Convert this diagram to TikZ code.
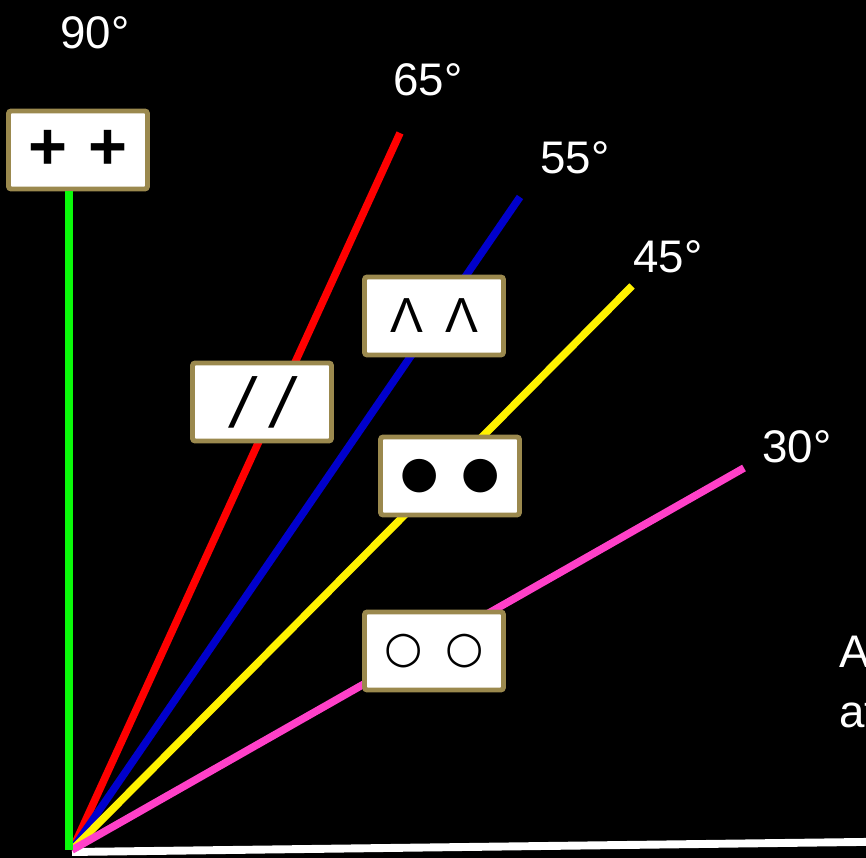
\documentclass[tikz,border=0pt]{standalone}
\usepackage{fontspec}
\setmainfont{Liberation Sans}
\newfontfamily\symfont{DejaVu Sans}
\definecolor{boxrim}{RGB}{155,137,78}
\definecolor{raygreen}{RGB}{10,250,10}
\definecolor{rayblue}{RGB}{0,0,204}
\definecolor{raypink}{RGB}{255,64,200}

\begin{document}
\begin{tikzpicture}[x=0.02cm, y=0.02cm,
	every node/.style={text=white, font=\fontsize{26}{34}\selectfont},
	markbox/.style={shape=rectangle, rounded corners=1.5pt, draw=boxrim,
		line width=2.8pt, fill=white, text=black, inner sep=0pt,
		minimum width=2.78cm, minimum height=1.56cm},
	ray/.style={line width=4.3pt}]
	\useasboundingbox (0,0) rectangle (866,858);
	\fill[black] (0,0) rectangle (866,858);
	\clip (0,0) rectangle (866,858);
	% rays from the corner
	\coordinate (O) at (72,8);
	\coordinate (g0) at (69,8);
	\coordinate (redend) at (400,725);
	\coordinate (blueend) at (520,661);
	\coordinate (yellowend) at (632,572);
	\coordinate (pinkend) at (744,390);
	\coordinate (floorend) at (900,16.5);
	\draw[line width=4.5pt, white] (O) ++(0,-2) -- (floorend);
	\draw[ray, red] (O) -- (redend);
	\draw[ray, rayblue] (O) -- (blueend);
	\draw[ray, yellow] (O) -- (yellowend);
	\draw[ray, raypink] (O) -- (pinkend);
	% boxes
	\node[markbox] (plusbox) at (78,708) {\fontsize{38}{40}\selectfont\bfseries\makebox[1.2cm]{+}\makebox[1.2cm]{+}};
	\node[markbox] (slashbox) at (262,456) {\fontsize{40}{44}\selectfont\itshape\makebox[0.8cm]{/}\makebox[0.8cm]{/}};
	\node[markbox] (wedgebox) at (434,542) {\fontsize{28}{34}\selectfont\makebox[1.1cm]{Λ}\makebox[1.1cm]{Λ}};
	\node[markbox] (dotbox) at (450,382) {\symfont\fontsize{25}{30}\selectfont\makebox[1.22cm]{●}\makebox[1.22cm]{●}};
	\node[markbox] (ringbox) at (434,207) {\symfont\bfseries\fontsize{25}{30}\selectfont\makebox[1.22cm]{○}\makebox[1.22cm]{○}};
	\draw[ray, raygreen] (g0) -- (g0 |- plusbox.south);
	% labels
	\node (lab90) at (95,825) {90°};
	\node (lab65) at (428,778) {65°};
	\node (lab55) at (575,700) {55°};
	\node (lab45) at (668,601) {45°};
	\node (lab30) at (797,411) {30°};
	\node[anchor=west, align=left] (note) at (833,176) {A\\at};
\end{tikzpicture}
\end{document}
